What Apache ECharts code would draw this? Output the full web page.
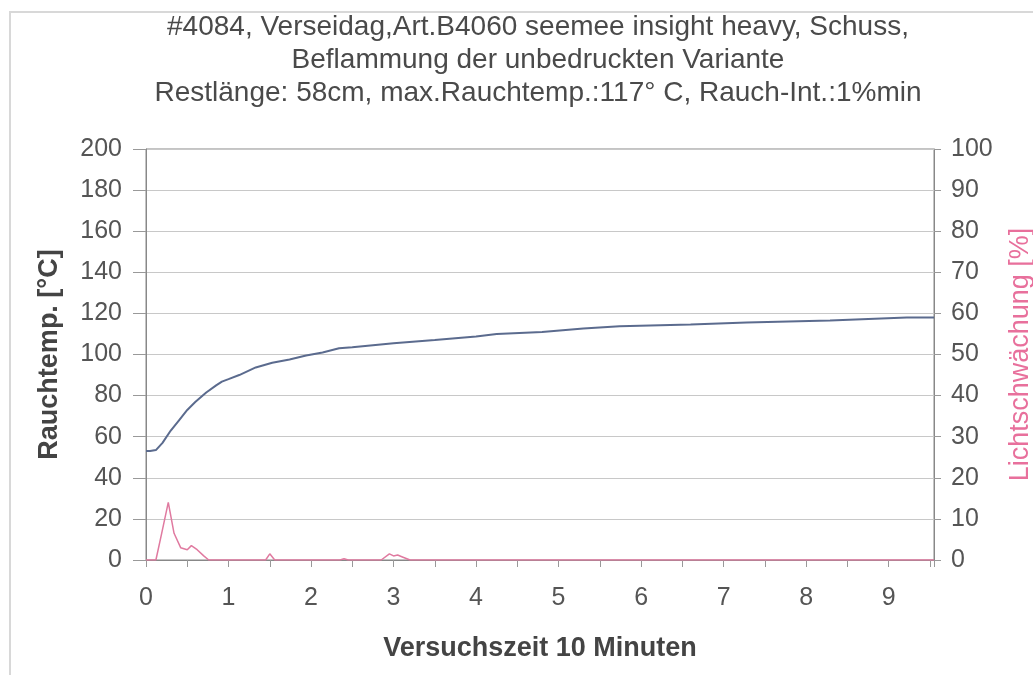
<!DOCTYPE html>
<html>
<head>
<meta charset="utf-8">
<script src="https://cdn.jsdelivr.net/npm/echarts@6/dist/echarts.min.js"></script>
<style>
  html, body { margin: 0; padding: 0; background: #fff; }
  #chart { width: 1033px; height: 675px; }
</style>
</head>
<body>
<div id="chart"></div>
<script>
// Rauchtemperatur (linke Achse, °C) über Versuchszeit
const tempTime = [0, 0.05, 0.12, 0.2, 0.3, 0.4, 0.5, 0.6, 0.73, 0.85, 0.92, 1.0, 1.13, 1.33, 1.53, 1.74,
  1.94, 2.14, 2.34, 2.5, 2.75, 3.0, 3.5, 4.0, 4.25, 4.8, 5.3, 5.74, 6.6, 7.28, 8.29, 9.22, 9.55]
const tempValues = [53, 53, 53.5, 57, 63, 68, 73, 77, 81.5, 85, 86.8, 88, 90, 93.7, 96, 97.6,
  99.5, 101, 103, 103.5, 104.5, 105.5, 107, 108.8, 110, 111, 112.7, 113.7, 114.6, 115.6, 116.6, 118, 118]

// Lichtschwächung (rechte Achse, %)
const lightTime = [0, 0.12, 0.19, 0.27, 0.34, 0.42, 0.5, 0.55, 0.62, 0.7, 0.76, 1.45, 1.5, 1.56,
  2.35, 2.4, 2.45, 2.85, 2.95, 3.0, 3.05, 3.1, 3.2, 9.55]
const lightValues = [0, 0, 6.5, 14, 6.5, 3, 2.5, 3.5, 2.5, 1, 0, 0, 1.5, 0,
  0, 0.3, 0, 0, 1.5, 1, 1.2, 0.8, 0, 0]

const titleLines = [
  '#4084, Verseidag,Art.B4060 seemee insight heavy, Schuss,',
  'Beflammung der unbedruckten Variante',
  'Restlänge: 58cm, max.Rauchtemp.:117° C, Rauch-Int.:1%min'
]

const font = '"Liberation Sans", Arial, sans-serif'
const chart = echarts.init(document.getElementById('chart'))

chart.setOption({
  animation: false,
  textStyle: { fontFamily: font },
  graphic: [{
    type: 'rect',
    shape: { x: 10, y: 12, width: 1100, height: 700 },
    style: { fill: 'none', stroke: '#d8d8d8', lineWidth: 2 }
  }],
  title: {
    text: titleLines.join('\n'),
    left: 533,
    textAlign: 'center',
    top: 6,
    textStyle: { fontSize: 28, fontWeight: 'normal', color: '#4a4a4a', lineHeight: 33, fontFamily: font }
  },
  grid: {
    left: 146, right: 99, top: 149, bottom: 115,
    outerBoundsMode: 'none',
    containLabel: false,
    show: true, borderColor: '#888', borderWidth: 1
  },
  xAxis: {
    type: 'value',
    min: 0,
    max: 9.55,
    interval: 0.5,
    name: 'Versuchszeit 10 Minuten',
    nameLocation: 'middle',
    nameGap: 75,
    nameTextStyle: { fontSize: 27, fontWeight: 'bold', color: '#444' },
    axisLine: { lineStyle: { color: '#888' } },
    axisTick: { show: true, length: 7, lineStyle: { color: '#999' } },
    axisLabel: {
      margin: 26, fontSize: 25, color: '#555',
      formatter: v => (Number.isInteger(v) ? String(v) : '')
    },
    splitLine: { show: false }
  },
  yAxis: [{
    type: 'value',
    min: 0, max: 200, interval: 20,
    name: 'Rauchtemp. [°C]',
    nameLocation: 'middle',
    nameGap: 83,
    nameTextStyle: { fontSize: 27, fontWeight: 'bold', color: '#444' },
    axisLine: { show: true, lineStyle: { color: '#888' } },
    axisTick: { show: true, length: 13, lineStyle: { color: '#999' } },
    axisLabel: { margin: 24, fontSize: 25, color: '#555' },
    splitLine: { lineStyle: { color: '#c8c8c8' } }
  }, {
    type: 'value',
    position: 'right',
    min: 0, max: 100, interval: 10,
    name: 'Lichtschwächung [%]',
    nameLocation: 'middle',
    nameGap: 73,
    nameTextStyle: { fontSize: 27, color: '#e8709c' },
    axisLine: { show: true, lineStyle: { color: '#888' } },
    axisTick: { show: true, length: 7, lineStyle: { color: '#999' } },
    axisLabel: { margin: 17, fontSize: 25, color: '#555' },
    splitLine: { show: false }
  }],
  series: [{
    name: 'Rauchtemp.',
    type: 'line',
    yAxisIndex: 0,
    showSymbol: false,
    data: tempTime.map((t, i) => [t, tempValues[i]]),
    lineStyle: { color: '#5b6b8e', width: 2 },
    itemStyle: { color: '#5b6b8e' }
  }, {
    name: 'Lichtschwächung',
    type: 'line',
    yAxisIndex: 1,
    showSymbol: false,
    data: lightTime.map((t, i) => [t, lightValues[i]]),
    lineStyle: { color: '#e07aa0', width: 1.5 },
    itemStyle: { color: '#e07aa0' }
  }]
})
</script>
</body>
</html>
